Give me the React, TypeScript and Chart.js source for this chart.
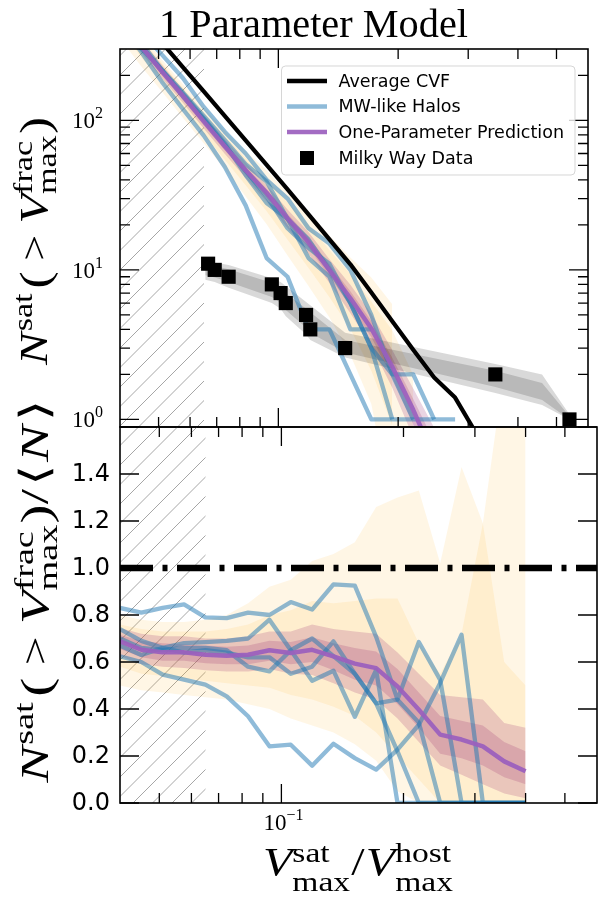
import React, { useEffect, useRef } from 'react';
import { Chart, registerables } from 'chart.js';

Chart.register(...registerables);

// ---------------- data ----------------
const VFRAC = [0.04, 0.04515, 0.05097, 0.05754, 0.06495, 0.07332, 0.08276, 0.09343, 0.10547, 0.11906, 0.13439, 0.15171, 0.17125, 0.19332, 0.21822, 0.24634, 0.27808, 0.3139, 0.35435, 0.4];
const HATCH_RANGE = [0.04, 0.065];
const X_RANGE = [0.04, 0.6];

// top panel: cumulative counts
const AVG_CVF = [706, 482, 331, 227, 156, 107, 73.5, 50.4, 34.6, 23.5, 16.0, 10.9, 7.07, 4.54, 2.92, 1.91, 1.4, 0.81, 0.5, 0.3];
const PRED_N = [486, 314, 212, 146, 98.4, 67.1, 46.4, 32.8, 22.1, 15.3, 9.98, 6.46, 4.06, 2.25, 1.16, 0.556, 0.378, 0.195, 0.089, 0.04];
const HALO_A_N = [586, 390, 275, 192, 123, 84, 60, 40, 30, 19, 15, 10, 5, 2, 2, 1, 0, 0, 0, 0];
const HALO_B_N = [440, 289, 181, 119, 79, 49, 27, 12, 9, 4, 4, 2, 1, 1, 1, 1, 1, 0, 0, 0];
const HALO_C_N = [522, 333, 218, 154, 107, 74, 51, 39, 22, 12, 9, 4, 4, 0, 0, 0, 0, 0, 0, 0];
const HALO_D_N = [494, 318, 215, 150, 103, 70, 43, 28, 22, 16, 10, 6, 3, 1, 0, 0, 0, 0, 0, 0];
const HALO_E_N = [473, 304, 218, 145, 101, 68, 46, 31, 19, 14, 11, 6, 3, 2, 1, 0, 0, 0, 0, 0];
const ORANGE_OUT_HI_N = [565, 376, 255, 175, 122, 85.6, 62.5, 46.4, 32.9, 24.2, 17.0, 12.1, 8.9, 5.9, 3.88, 1.95, 2.0, 0.96, 0.95, 0.95];
const ORANGE_OUT_LO_N = [353, 231, 156, 104, 70.2, 47.1, 30.9, 20.2, 12.5, 7.8, 4.8, 2.7, 1.27, 0.23, 0, 0, 0, 0, 0, 0];
const ORANGE_IN_HI_N = [537, 357, 242, 166, 114, 79.2, 55.9, 40.3, 28.4, 20.2, 13.6, 9.4, 6.15, 3.95, 1.99, 1.05, 1.01, 0.96, 0.3, 0.25];
const ORANGE_IN_LO_N = [409, 265, 179, 120, 81.1, 54.6, 36.8, 24.7, 15.9, 10.3, 6.56, 4.03, 2.12, 0.91, 0.29, 0, 0, 0, 0, 0];
const PURPLE_OUT_HI_N = [526, 347, 235, 161, 109, 74.9, 52.2, 36.8, 25.3, 17.9, 11.8, 7.96, 5.09, 2.91, 1.61, 0.88, 0.63, 0.36, 0.17, 0.1];
const PURPLE_OUT_LO_N = [441, 284, 192, 131, 88.1, 59.9, 41.2, 28.7, 19.0, 12.8, 8.16, 5.12, 3.11, 1.63, 0.76, 0.31, 0.17, 0.065, 0.02, 0.006];
const PURPLE_IN_HI_N = [505, 333, 225, 153, 105, 71.2, 49.2, 34.8, 23.7, 16.6, 10.9, 7.19, 4.56, 2.59, 1.37, 0.71, 0.49, 0.27, 0.13, 0.07];
const PURPLE_IN_LO_N = [462, 299, 200, 137, 92.8, 63.1, 43.4, 30.5, 20.4, 14.1, 9.04, 5.72, 3.54, 1.91, 0.93, 0.4, 0.27, 0.13, 0.055, 0.024];

// Milky Way satellites
const MW_V = [0.0666, 0.0692, 0.075, 0.0963, 0.1013, 0.1044, 0.1174, 0.1203, 0.1472, 0.351, 0.539];
const MW_N = [11, 10, 9, 8, 7, 6, 5, 4, 3, 2, 1];
const MW_BAND_V = [0.0655, 0.0692, 0.075, 0.0963, 0.1013, 0.1044, 0.1174, 0.1203, 0.1472, 0.351, 0.46, 0.539];
const MW_OUT_HI = [11.5, 11.2, 10.8, 8.8, 8.3, 7.8, 6.1, 5.8, 3.8, 2.35, 2.0, 1.08];
const MW_OUT_LO = [8.6, 8.3, 7.6, 6.0, 5.5, 4.9, 3.7, 3.4, 2.6, 1.5, 1.25, 1.0];
const MW_IN_HI = [11.0, 10.6, 10.1, 8.2, 7.6, 7.0, 5.5, 5.2, 3.4, 2.12, 1.75, 1.05];
const MW_IN_LO = [9.2, 8.9, 8.3, 6.6, 6.0, 5.4, 4.1, 3.8, 2.8, 1.65, 1.35, 1.0];

// bottom panel: ratio to mean
const PRED_R = [0.688, 0.652, 0.641, 0.641, 0.631, 0.627, 0.631, 0.65, 0.638, 0.652, 0.624, 0.593, 0.574, 0.496, 0.397, 0.291, 0.27, 0.241, 0.177, 0.135];
const HALO_A_R = [0.83, 0.81, 0.83, 0.845, 0.79, 0.787, 0.81, 0.8, 0.855, 0.823, 0.93, 0.925, 0.707, 0.44, 0.685, 0.524, 0, 0, 0, 0];
const HALO_B_R = [0.624, 0.6, 0.546, 0.525, 0.504, 0.454, 0.369, 0.241, 0.248, 0.159, 0.252, 0.191, 0.142, 0.227, 0.333, 0.511, 0.716, 0, 0, 0];
const HALO_C_R = [0.74, 0.69, 0.66, 0.68, 0.685, 0.69, 0.7, 0.78, 0.65, 0.52, 0.563, 0.367, 0.566, 0, 0, 0, 0, 0, 0, 0];
const HALO_D_R = [0.7, 0.66, 0.65, 0.66, 0.66, 0.65, 0.58, 0.56, 0.65, 0.7, 0.625, 0.55, 0.424, 0.22, 0, 0, 0, 0, 0, 0];
const HALO_E_R = [0.67, 0.63, 0.66, 0.64, 0.65, 0.64, 0.62, 0.62, 0.55, 0.58, 0.688, 0.55, 0.424, 0.44, 0.342, 0, 0, 0, 0, 0];
const ORANGE_OUT_HI_R = [0.8, 0.78, 0.77, 0.77, 0.78, 0.8, 0.85, 0.92, 0.95, 1.03, 1.06, 1.11, 1.26, 1.3, 1.33, 1.02, 1.43, 1.19, 1.85, 1.9];
const ORANGE_OUT_LO_R = [0.5, 0.48, 0.47, 0.46, 0.45, 0.44, 0.42, 0.4, 0.36, 0.33, 0.3, 0.25, 0.18, 0.05, 0, 0, 0, 0, 0, 0];
const ORANGE_IN_HI_R = [0.76, 0.74, 0.73, 0.73, 0.73, 0.74, 0.76, 0.8, 0.82, 0.86, 0.85, 0.86, 0.87, 0.87, 0.68, 0.55, 0.72, 1.19, 0.6, 0.5];
const ORANGE_IN_LO_R = [0.58, 0.55, 0.54, 0.53, 0.52, 0.51, 0.5, 0.49, 0.46, 0.44, 0.41, 0.37, 0.3, 0.2, 0.1, 0, 0, 0, 0, 0];
const PURPLE_OUT_HI_R = [0.745, 0.72, 0.71, 0.71, 0.7, 0.7, 0.71, 0.73, 0.73, 0.76, 0.74, 0.73, 0.72, 0.64, 0.55, 0.46, 0.45, 0.44, 0.34, 0.32];
const PURPLE_OUT_LO_R = [0.625, 0.59, 0.58, 0.575, 0.565, 0.56, 0.56, 0.57, 0.55, 0.545, 0.51, 0.47, 0.44, 0.36, 0.26, 0.16, 0.12, 0.08, 0.04, 0.02];
const PURPLE_IN_HI_R = [0.715, 0.69, 0.68, 0.675, 0.67, 0.665, 0.67, 0.69, 0.685, 0.705, 0.68, 0.66, 0.645, 0.57, 0.47, 0.37, 0.35, 0.33, 0.26, 0.22];
const PURPLE_IN_LO_R = [0.655, 0.62, 0.605, 0.605, 0.595, 0.59, 0.59, 0.605, 0.59, 0.6, 0.565, 0.525, 0.5, 0.42, 0.32, 0.21, 0.19, 0.16, 0.11, 0.08];
const UNITY_V = [0.04, 0.6];
const UNITY_R = [1, 1];

// ticks
const X_MAJOR = [0.1];
const X_MINOR = [0.05, 0.06, 0.07, 0.08, 0.09, 0.2, 0.3, 0.4, 0.5];
const X_MAJOR_LABELS = [['10', '\u22121']];
const TOP_Y_MAJOR = [1, 10, 100];
const TOP_Y_MAJOR_EXP = ['0', '1', '2'];
const TOP_Y_MINOR = [2, 3, 4, 5, 6, 7, 8, 9, 20, 30, 40, 50, 60, 70, 80, 90, 200];
const BOT_Y_TICKS = [0, 0.2, 0.4, 0.6, 0.8, 1.0, 1.2, 1.4, 1.6];
const BOT_Y_LABELS = ['0.0', '0.2', '0.4', '0.6', '0.8', '1.0', '1.2', '1.4', ''];
const LEGEND_LABELS = ['Average CVF', 'MW-like Halos', 'One-Parameter Prediction', 'Milky Way Data'];
const TITLE = '1 Parameter Model';

// ---------------- styles ----------------
const BLUE = 'rgba(31,119,180,0.5)';
const PURPLE = 'rgba(155,95,190,0.92)';
const ORANGE_OUT = 'rgba(255,165,0,0.1)';
const ORANGE_IN = 'rgba(255,165,0,0.1)';
const PURPLE_BAND = 'rgba(150,40,110,0.2)';
const GRAY_BAND = 'rgba(0,0,0,0.15)';
const SERIF = '"Liberation Serif", "Times New Roman", serif';
const SANS = '"DejaVu Sans", sans-serif';

type XY = { x: number; y: number | null };
const pts = (xs: number[], ys: number[]): XY[] => xs.map((x, i) => ({ x, y: ys[i] }));
const logPts = (xs: number[], ys: number[]): XY[] => xs.map((x, i) => ({ x, y: ys[i] > 0 ? ys[i] : null }));

const hidden = { borderColor: 'transparent', borderWidth: 0, pointRadius: 0, fill: false };

function band(xs: number[], lo: number[], hi: number[], color: string, order: number) {
  return [
    { data: pts(xs, lo), ...hidden, order },
    { data: pts(xs, hi), borderColor: 'transparent', borderWidth: 0, pointRadius: 0, fill: '-1', backgroundColor: color, order },
  ];
}
function line(data: XY[], color: string, width: number, order: number, extra: any = {}) {
  return { data, borderColor: color, borderWidth: width, pointRadius: 0, fill: false, order, borderJoinStyle: 'round', borderCapStyle: 'butt', ...extra };
}

// ---------------- text helpers ----------------
type Piece = { t: string; f: string; dy?: number; gap?: number };
type Stack = { sup: Piece; sub: Piece; gap?: number };
type Item = Piece | Stack;
function wItem(ctx: CanvasRenderingContext2D, it: Item) {
  if ('sup' in it) {
    ctx.font = it.sup.f; const a = ctx.measureText(it.sup.t).width;
    ctx.font = it.sub.f; const b = ctx.measureText(it.sub.t).width;
    return Math.max(a, b) + (it.gap || 0);
  }
  ctx.font = it.f; return ctx.measureText(it.t).width + (it.gap || 0);
}
function drawItems(ctx: CanvasRenderingContext2D, items: Item[], x: number, y: number) {
  let cx = x;
  ctx.textBaseline = 'alphabetic'; ctx.textAlign = 'left';
  for (const it of items) {
    if ('sup' in it) {
      ctx.font = it.sup.f; ctx.fillText(it.sup.t, cx, y + (it.sup.dy || 0));
      ctx.font = it.sub.f; ctx.fillText(it.sub.t, cx, y + (it.sub.dy || 0));
    } else {
      ctx.font = it.f; ctx.fillText(it.t, cx, y + (it.dy || 0));
    }
    cx += wItem(ctx, it);
  }
}
function drawMath(ctx: CanvasRenderingContext2D, items: Item[], cx: number, cy: number, target: number, rotate: boolean, align: 'center' | 'right' = 'center') {
  const total = items.reduce((s, it) => s + wItem(ctx, it), 0);
  const sx = target > 0 ? target / total : 1;
  ctx.save();
  ctx.translate(cx, cy);
  if (rotate) ctx.rotate(-Math.PI / 2);
  ctx.scale(sx, 1);
  ctx.fillStyle = '#000';
  drawItems(ctx, items, align === 'center' ? -total / 2 : -total, 0);
  ctx.restore();
}

const IT = (n: number) => `italic ${n}px ${SERIF}`;
const RM = (n: number) => `${n}px ${SERIF}`;

function nLabel(extra: Item[]): Item[] {
  return [
    { t: 'N', f: IT(40), gap: 1 },
    { t: 'sat', f: RM(28), dy: -15, gap: 4 },
    { t: '(', f: RM(42), dy: 2, gap: 9 },
    { t: '>', f: RM(38), gap: 9 },
    { t: 'V', f: IT(40), gap: 0 },
    { sup: { t: 'frac', f: RM(28), dy: -15 }, sub: { t: 'max', f: RM(28), dy: 9 }, gap: 1 },
    { t: ')', f: RM(42), dy: 2, gap: 0 },
    ...extra,
  ];
}

// ---------------- decoration ----------------
function drawHatch(chart: any) {
  const { ctx, chartArea: a } = chart;
  const xs = chart.scales.x;
  const x0 = xs.getPixelForValue(HATCH_RANGE[0]);
  const x1 = xs.getPixelForValue(HATCH_RANGE[1]);
  ctx.save();
  ctx.beginPath(); ctx.rect(x0, a.top, x1 - x0, a.bottom - a.top); ctx.clip();
  ctx.strokeStyle = 'rgba(150,150,150,0.85)'; ctx.lineWidth = 1;
  ctx.beginPath();
  const sp = 19.5;
  const cMin = x0 + a.top, cMax = x1 + a.bottom;
  for (let c = Math.floor(cMin / sp) * sp; c <= cMax + sp; c += sp) {
    ctx.moveTo(c - a.bottom, a.bottom); ctx.lineTo(c - a.top, a.top);
  }
  ctx.stroke();
  ctx.restore();
}

function drawFrameTicks(chart: any, yMajor: number[], yMinor: number[]) {
  const { ctx, chartArea: a } = chart;
  const xs = chart.scales.x, ys = chart.scales.y;
  const MAJ = 19, MIN = 10;
  ctx.save();
  ctx.strokeStyle = '#000'; ctx.lineWidth = 1.3; ctx.beginPath();
  const vt = (v: number, len: number) => { const p = xs.getPixelForValue(v); ctx.moveTo(p, a.top); ctx.lineTo(p, a.top + len); ctx.moveTo(p, a.bottom); ctx.lineTo(p, a.bottom - len); };
  const ht = (v: number, len: number) => { const p = ys.getPixelForValue(v); ctx.moveTo(a.left, p); ctx.lineTo(a.left + len, p); ctx.moveTo(a.right, p); ctx.lineTo(a.right - len, p); };
  X_MAJOR.forEach((v) => vt(v, MAJ));
  X_MINOR.forEach((v) => vt(v, MIN));
  yMajor.forEach((v) => ht(v, MAJ));
  yMinor.forEach((v) => ht(v, MIN));
  ctx.stroke();
  ctx.lineWidth = 1.6;
  ctx.strokeRect(a.left, a.top, a.right - a.left, a.bottom - a.top);
  ctx.restore();
}

function drawLegend(chart: any) {
  const ctx = chart.ctx as CanvasRenderingContext2D;
  ctx.save();
  ctx.beginPath();
  (ctx as any).roundRect(281.5, 66, 293.5, 109, 4);
  ctx.fillStyle = 'rgba(255,255,255,0.8)'; ctx.fill();
  ctx.strokeStyle = 'rgba(204,204,204,0.8)'; ctx.lineWidth = 1; ctx.stroke();
  const rows = [81, 106.5, 132, 158];
  const styles = [{ c: '#000', w: 4.5 }, { c: BLUE, w: 4.5 }, { c: PURPLE, w: 4.5 }];
  styles.forEach((s, i) => {
    ctx.beginPath(); ctx.strokeStyle = s.c; ctx.lineWidth = s.w; ctx.lineCap = 'butt';
    ctx.moveTo(287, rows[i]); ctx.lineTo(327, rows[i]); ctx.stroke();
  });
  ctx.fillStyle = '#000';
  ctx.fillRect(300, rows[3] - 7, 14, 14);
  ctx.font = `17.5px ${SANS}`; ctx.textBaseline = 'middle'; ctx.textAlign = 'left';
  LEGEND_LABELS.forEach((t, i) => ctx.fillText(t, 338.5, rows[i] + 1));
  ctx.restore();
}

const topDecor = {
  id: 'topDecor',
  beforeDatasetsDraw(chart: any) { drawHatch(chart); },
  afterDatasetsDraw(chart: any) {
    const ctx = chart.ctx as CanvasRenderingContext2D;
    drawFrameTicks(chart, TOP_Y_MAJOR, TOP_Y_MINOR);
    drawLegend(chart);
    drawMath(ctx, [{ t: TITLE, f: RM(40) }], 313.5, 37, 309, false);
    const ys = chart.scales.y;
    TOP_Y_MAJOR.forEach((v, i) => {
      const p = ys.getPixelForValue(v);
      drawMath(ctx, [{ t: '10', f: RM(23) }, { t: TOP_Y_MAJOR_EXP[i], f: RM(16), dy: -10 }], 103, p + 8, 0, false, 'right');
    });
    drawMath(ctx, nLabel([]), 47, 241, 248, true);
  },
};

const botDecor = {
  id: 'botDecor',
  beforeDatasetsDraw(chart: any) { drawHatch(chart); },
  afterDatasetsDraw(chart: any) {
    const ctx = chart.ctx as CanvasRenderingContext2D;
    drawFrameTicks(chart, BOT_Y_TICKS, []);
    const ys = chart.scales.y, xs = chart.scales.x;
    ctx.save();
    ctx.fillStyle = '#000'; ctx.font = `24px ${SANS}`; ctx.textAlign = 'right'; ctx.textBaseline = 'middle';
    BOT_Y_TICKS.forEach((v, i) => ctx.fillText(BOT_Y_LABELS[i], 110, ys.getPixelForValue(v) + 1));
    ctx.restore();
    X_MAJOR.forEach((v, i) => {
      drawMath(ctx, [{ t: X_MAJOR_LABELS[i][0], f: RM(23) }, { t: X_MAJOR_LABELS[i][1], f: RM(16), dy: -10 }], xs.getPixelForValue(v) + 2, 830, 0, false);
    });
    drawMath(ctx, nLabel([{ t: '/', f: RM(40), gap: 2 }, { t: '\u27E8', f: RM(40), gap: 2 }, { t: 'N', f: IT(40), gap: 3 }, { t: '\u27E9', f: RM(40) }]), 48, 591, 383, true);
    drawMath(ctx, [
      { t: 'V', f: IT(40), gap: 0 },
      { sup: { t: 'sat', f: RM(28), dy: -13 }, sub: { t: 'max', f: RM(28), dy: 16 }, gap: 1 },
      { t: '/', f: RM(40), gap: 1 },
      { t: 'V', f: IT(40), gap: 0 },
      { sup: { t: 'host', f: RM(28), dy: -13 }, sub: { t: 'max', f: RM(28), dy: 16 } },
    ], 358, 875, 190, false);
  },
};

const baseOptions = (pad: any, yScale: any) => ({
  responsive: false,
  animation: false as const,
  devicePixelRatio: 1,
  layout: { padding: pad },
  scales: {
    x: { type: 'logarithmic', min: X_RANGE[0], max: X_RANGE[1], display: false },
    y: { ...yScale, display: false },
  },
  plugins: { legend: { display: false }, tooltip: { enabled: false } },
  elements: { line: { tension: 0 }, point: { radius: 0 } },
  events: [],
});

export default function App() {
  const topRef = useRef<HTMLCanvasElement>(null);
  const botRef = useRef<HTMLCanvasElement>(null);
  useEffect(() => {
    const halosTop = [HALO_A_N, HALO_B_N, HALO_C_N, HALO_D_N, HALO_E_N];
    const halosBot = [HALO_A_R, HALO_B_R, HALO_C_R, HALO_D_R, HALO_E_R];
    const top = new Chart(topRef.current as HTMLCanvasElement, {
      type: 'line',
      data: {
        datasets: [
          ...band(VFRAC, ORANGE_OUT_LO_N, ORANGE_OUT_HI_N, ORANGE_OUT, 20),
          ...band(VFRAC, ORANGE_IN_LO_N, ORANGE_IN_HI_N, ORANGE_IN, 19),
          ...band(VFRAC, PURPLE_OUT_LO_N, PURPLE_OUT_HI_N, PURPLE_BAND, 18),
          ...band(VFRAC, PURPLE_IN_LO_N, PURPLE_IN_HI_N, PURPLE_BAND, 17),
          ...band(MW_BAND_V, MW_OUT_LO, MW_OUT_HI, GRAY_BAND, 16),
          ...band(MW_BAND_V, MW_IN_LO, MW_IN_HI, GRAY_BAND, 15),
          ...halosTop.map((h) => line(logPts(VFRAC, h), BLUE, 4.3, 10)),
          line(pts(VFRAC, PRED_N), PURPLE, 4.5, 6),
          line(pts(VFRAC, AVG_CVF), '#000', 4.2, 5),
          { data: pts(MW_V, MW_N), showLine: false, pointStyle: 'rect', pointRadius: 10, pointBorderWidth: 0, pointBackgroundColor: '#000', borderColor: '#000', backgroundColor: '#000', order: 1 },
        ] as any,
      },
      options: baseOptions({ left: 120, right: 1, top: 49, bottom: 470 }, { type: 'logarithmic', min: 0.89, max: 300 }) as any,
      plugins: [topDecor],
    });
    const bot = new Chart(botRef.current as HTMLCanvasElement, {
      type: 'line',
      data: {
        datasets: [
          ...band(VFRAC, ORANGE_OUT_LO_R, ORANGE_OUT_HI_R, ORANGE_OUT, 20),
          ...band(VFRAC, ORANGE_IN_LO_R, ORANGE_IN_HI_R, ORANGE_IN, 19),
          ...band(VFRAC, PURPLE_OUT_LO_R, PURPLE_OUT_HI_R, PURPLE_BAND, 18),
          ...band(VFRAC, PURPLE_IN_LO_R, PURPLE_IN_HI_R, PURPLE_BAND, 17),
          ...halosBot.map((h) => line(pts(VFRAC, h), BLUE, 4.3, 10)),
          line(pts(VFRAC, PRED_R), PURPLE, 4.5, 6),
          line(pts(UNITY_V, UNITY_R), '#000', 6.5, 5, { borderDash: [33, 9.5, 5, 9.5] }),
        ] as any,
      },
      options: baseOptions({ left: 120, right: 1, top: 427, bottom: 94 }, { type: 'linear', min: 0, max: 1.6 }) as any,
      plugins: [botDecor],
    });
    return () => { top.destroy(); bot.destroy(); };
  }, []);
  const cs: React.CSSProperties = { position: 'absolute', left: 0, top: 0, width: 598, height: 897 };
  return (
    <div style={{ position: 'absolute', left: 0, top: 0, width: 598, height: 897, background: '#fff' }}>
      <canvas ref={topRef} width={598} height={897} style={cs} />
      <canvas ref={botRef} width={598} height={897} style={cs} />
    </div>
  );
}
